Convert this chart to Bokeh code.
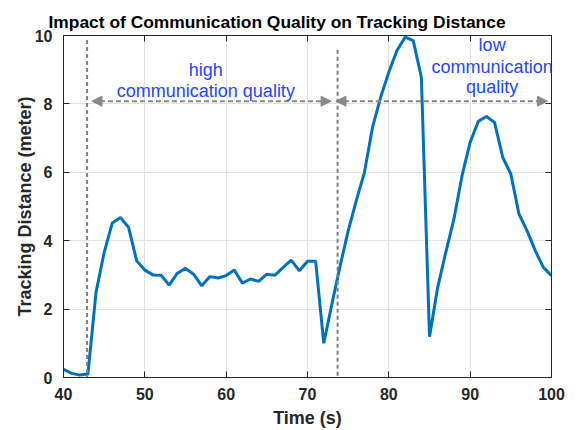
from bokeh.plotting import figure
from bokeh.models import Range1d, FixedTicker, LinearAxis, Arrow, NormalHead, Label, ColumnDataSource
from bokeh.embed import file_html
from bokeh.resources import INLINE

# ---- data ----
time_s = list(range(40, 101))
distance = [0.24, 0.12, 0.07, 0.10, 2.49, 3.66, 4.52, 4.68, 4.39, 3.41,
            3.14, 3.00, 2.99, 2.70, 3.05, 3.19, 3.02, 2.68, 2.95, 2.91,
            2.98, 3.14, 2.76, 2.88, 2.81, 3.02, 2.99, 3.22, 3.43, 3.12,
            3.40, 3.40, 1.00, 2.15, 3.25, 4.29, 5.17, 6.00, 7.32, 8.20,
            8.93, 9.56, 9.95, 9.85, 8.78, 1.19, 2.63, 3.66, 4.63, 5.90,
            6.88, 7.49, 7.63, 7.46, 6.44, 5.95, 4.78, 4.29, 3.71, 3.22, 2.98]
x_ticks = [40, 50, 60, 70, 80, 90, 100]
y_ticks = [0, 2, 4, 6, 8, 10]
title_text = "Impact of Communication Quality on Tracking Distance"
x_label = "Time (s)"
y_label = "Tracking Distance (meter)"

FONT = "Liberation Sans"
DARK = "#262626"
GRAY = "#888888"
BLUE = "#2346ff"

p = figure(width=580, height=430, x_range=Range1d(40, 100), y_range=Range1d(0, 10),
           output_backend="svg", toolbar_location=None,
           min_border_left=63, min_border_right=29, min_border_top=35, min_border_bottom=53)

p.title.text = title_text
p.title.text_font = FONT
p.title.text_font_size = "17.4px"
p.title.text_font_style = "bold"
p.title.text_color = "black"
p.title.align = "left"
p.title.offset = -15
p.title.standoff = 7

p.outline_line_color = DARK
p.outline_line_width = 1
p.background_fill_color = "white"
p.border_fill_color = "white"

for ax, ticks in ((p.xaxis[0], x_ticks), (p.yaxis[0], y_ticks)):
    ax.ticker = FixedTicker(ticks=ticks)
    ax.major_tick_in = 6
    ax.major_tick_out = 0
    ax.minor_tick_line_color = None
    ax.axis_line_color = DARK
    ax.major_tick_line_color = DARK
    ax.major_label_text_font = FONT
    ax.major_label_text_font_style = "bold"
    ax.major_label_text_font_size = "16px"
    ax.major_label_text_color = DARK
    ax.axis_label_text_font = FONT
    ax.axis_label_text_font_style = "bold"
    ax.axis_label_text_font_size = "18px"
    ax.axis_label_text_color = DARK

p.xaxis[0].axis_label = x_label
p.yaxis[0].axis_label = y_label
p.xaxis[0].major_label_standoff = 10
p.xaxis[0].axis_label_standoff = 5
p.yaxis[0].major_label_standoff = 11
p.yaxis[0].axis_label_standoff = -3

for loc, ticks in (("above", x_ticks), ("right", y_ticks)):
    ax2 = LinearAxis(ticker=FixedTicker(ticks=ticks), major_tick_in=6, major_tick_out=0,
                     minor_tick_line_color=None, axis_line_color=DARK,
                     major_tick_line_color=DARK, major_label_text_color=None,
                     major_label_text_font_size="1px", major_label_standoff=0)
    p.add_layout(ax2, loc)

p.xgrid.ticker = FixedTicker(ticks=x_ticks)
p.ygrid.ticker = FixedTicker(ticks=y_ticks)
p.xgrid.grid_line_color = "#e3e3e3"
p.ygrid.grid_line_color = "#e3e3e3"

src = ColumnDataSource(dict(t=time_s, d=distance))
p.line("t", "d", source=src, line_color="#0072BD", line_width=3)

# vertical dashed separators
p.add_layout(Arrow(x_start=42.9, y_start=9.87, x_end=42.9, y_end=0, end=None, start=None,
                   line_color="#7f7f7f", line_width=2, line_dash="4 3"))
p.add_layout(Arrow(x_start=73.7, y_start=9.58, x_end=73.7, y_end=-0.25, end=None, start=None,
                   line_color="#7f7f7f", line_width=2, line_dash="4 3"))

# double arrows
for xs, xe in ((43.5, 72.9), (73.5, 99.5)):
    p.add_layout(Arrow(x_start=xs, y_start=8.08, x_end=xe, y_end=8.08,
                       start=NormalHead(size=10, fill_color=GRAY, line_color=GRAY),
                       end=NormalHead(size=10, fill_color=GRAY, line_color=GRAY),
                       line_color=GRAY, line_width=2, line_dash="5 3"))

for x, y, txt in ((57.5, 9.0, "high"), (57.5, 8.37, "communication quality"),
                  (92.7, 9.73, "low"), (92.7, 9.09, "communication"), (92.7, 8.49, "quality")):
    p.add_layout(Label(x=x, y=y, text=txt, text_align="center", text_baseline="middle",
                       text_font=FONT, text_font_size="18px", text_color=BLUE))

open("out.html", "w").write(file_html(p, INLINE))
